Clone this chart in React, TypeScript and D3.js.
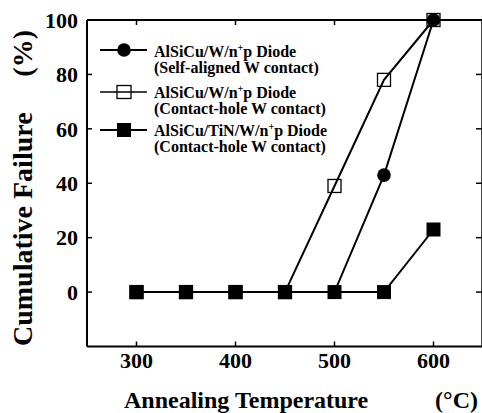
import React from "react";
import * as d3 from "d3";

const temps = [300, 350, 400, 450, 500, 550, 600];
const selfAligned = [0, 0, 0, 0, 0, 43, 100];
const contactHoleW = [0, 0, 0, 0, 39, 78, 100];
const tinW = [0, 0, 0, 0, 0, 0, 23];
const xTicks = [300, 400, 500, 600];
const yTicks = [0, 20, 40, 60, 80, 100];

const W = 482, H = 413;
const FONT = "Liberation Serif";

export default function App() {
  const x = d3.scaleLinear().domain([250, 650]).range([87, 483]);
  const y = d3.scaleLinear().domain([-20, 100]).range([346.5, 20]);
  const line = d3.line<[number, number]>().x(d => x(d[0])).y(d => y(d[1]));
  const pts = (vals: number[]) => temps.map((t, i) => [t, vals[i]] as [number, number]);

  const sq = 14;
  const osq = 13;
  const legendRows = [
    { y: 50, l1: 57, kind: "circle", sub: "(Self-aligned  W contact)", pre: "AlSiCu/W/n" },
    { y: 92, l1: 98, kind: "open", sub: "(Contact-hole W contact)", pre: "AlSiCu/W/n" },
    { y: 130, l1: 136, kind: "filled", sub: "(Contact-hole W contact)", pre: "AlSiCu/TiN/W/n" },
  ];

  const marker = (kind: string, cx: number, cy: number, key?: any) => {
    if (kind === "circle") return <circle key={key} cx={cx} cy={cy} r={6.8} fill="#000" />;
    if (kind === "open")
      return <rect key={key} x={cx - osq / 2} y={cy - osq / 2} width={osq} height={osq} fill="none" stroke="#000" strokeWidth={1.3} />;
    return <rect key={key} x={cx - sq / 2} y={cy - sq / 2} width={sq} height={sq} fill="#000" />;
  };

  return (
    <svg width={W} height={H} style={{ position: "absolute", left: 0, top: 0, background: "#fff" }} fontFamily={FONT} fontWeight="bold">
      {/* frame */}
      <line x1={x(250)} x2={x(250)} y1={y(100)} y2={y(-20)} stroke="#000" strokeWidth={2} />
      <line x1={x(250)} x2={W} y1={y(-20)} y2={y(-20)} stroke="#000" strokeWidth={2} />
      <line x1={x(250)} x2={W} y1={y(100)} y2={y(100)} stroke="#000" strokeWidth={2} />
      <line x1={482} x2={482} y1={y(100)} y2={y(-20)} stroke="#000" strokeWidth={1.5} />
      {/* ticks */}
      {yTicks.map(t => (
        <g key={"yt" + t}>
          <line x1={x(250)} x2={x(250) + 5} y1={y(t)} y2={y(t)} stroke="#000" strokeWidth={1.5} />
          <line x1={482} x2={476} y1={y(t)} y2={y(t)} stroke="#000" strokeWidth={1.5} />
          <text x={78} y={y(t)} dy="0.35em" textAnchor="end" fontSize={22}>{t}</text>
        </g>
      ))}
      {xTicks.map(t => (
        <g key={"xt" + t}>
          <line x1={x(t)} x2={x(t)} y1={y(-20)} y2={y(-20) - 5} stroke="#000" strokeWidth={1.5} />
          <line x1={x(t)} x2={x(t)} y1={y(100)} y2={y(100) + 5} stroke="#000" strokeWidth={1.5} />
          <text x={x(t)} y={368} textAnchor="middle" fontSize={22}>{t}</text>
        </g>
      ))}
      {/* axis titles */}
      <text x={124} y={408} fontSize={24}>Annealing Temperature</text>
      <text x={478} y={408} textAnchor="end" fontSize={24}>(°C)</text>
      <g transform="translate(32,346) rotate(-90)">
        <text x={0} y={0} fontSize={28}>Cumulative Failure</text>
        <text x={316} y={0} textAnchor="end" fontSize={28}>(%)</text>
      </g>
      {/* series lines */}
      <path d={line(pts(selfAligned)) || ""} fill="none" stroke="#000" strokeWidth={2} />
      <path d={line(pts(contactHoleW)) || ""} fill="none" stroke="#000" strokeWidth={2} />
      <path d={line(pts(tinW)) || ""} fill="none" stroke="#000" strokeWidth={2} />
      {/* markers */}
      {temps.map((t, i) => marker("circle", x(t), y(selfAligned[i]), "c" + i))}
      {temps.map((t, i) => marker("open", x(t), y(contactHoleW[i]), "o" + i))}
      {temps.map((t, i) => marker("filled", x(t), y(tinW[i]), "f" + i))}
      {/* legend */}
      {legendRows.map((r, i) => (
        <g key={"lg" + i}>
          <line x1={100} x2={147} y1={r.y} y2={r.y} stroke="#000" strokeWidth={r.kind === "open" ? 1.3 : 2} />
          {r.kind === "open" ? (
            <rect x={124 - 7} y={r.y - 6.5} width={14} height={13} fill="none" stroke="#000" strokeWidth={1.3} />
          ) : marker(r.kind, 124, r.y)}
          <text x={154} y={r.l1} fontSize={16}>
            {r.pre}
            <tspan fontSize={10} dy={-6}>+</tspan>
            <tspan dy={6}>p Diode</tspan>
          </text>
          <text x={154} y={r.l1 + 16} fontSize={16}>{r.sub}</text>
        </g>
      ))}
    </svg>
  );
}
